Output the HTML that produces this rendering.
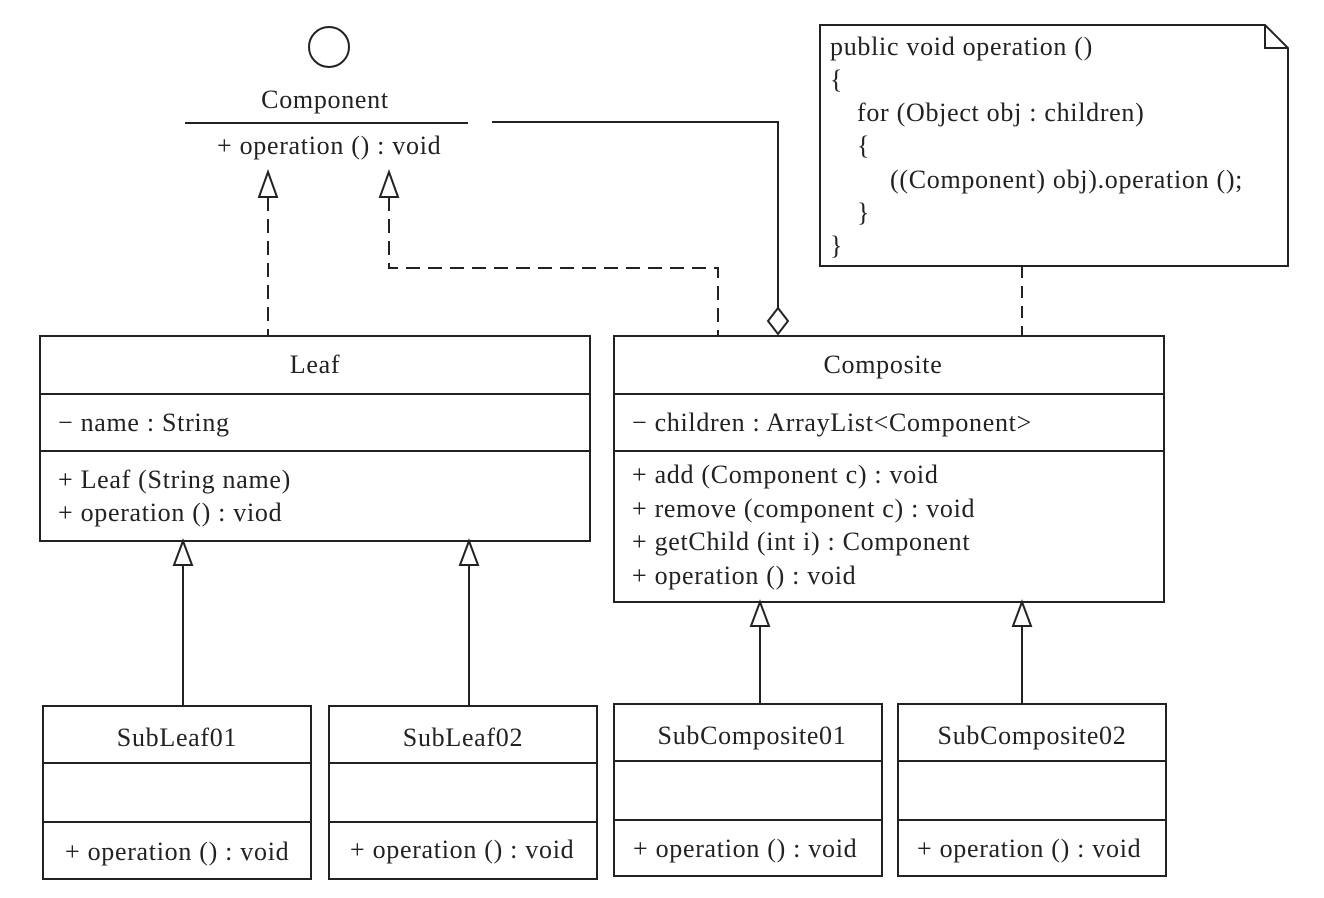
<!DOCTYPE html>
<html><head><meta charset="utf-8"><style>
html,body{margin:0;padding:0;background:#fff;}
svg{display:block;}
text{font-family:"Liberation Serif",serif;font-size:26px;letter-spacing:0.7px;fill:#222;}
</style></head><body>
<svg width="1324" height="898" viewBox="0 0 1324 898" xmlns="http://www.w3.org/2000/svg">
<g stroke="#222" stroke-width="2" fill="none">
<circle cx="329" cy="47" r="20"/>
<line x1="185" y1="123" x2="468" y2="123"/>
<polyline points="492,122 778,122 778,308"/>
<polygon points="778,308 788,321 778,334 768,321" fill="#fff"/>
<polygon points="820,25 1265,25 1288,48 1288,266 820,266" fill="#fff"/>
<polyline points="1265,25 1265,48 1288,48"/>
<line x1="1022" y1="266" x2="1022" y2="336" stroke-dasharray="12,8"/>
<line x1="268" y1="197" x2="268" y2="336" stroke-dasharray="14,8"/>
<polygon points="268,172 259,197 277,197" fill="#fff"/>
<polyline points="389,197 389,268 718,268 718,336" stroke-dasharray="14,8"/>
<polygon points="389,172 380,197 398,197" fill="#fff"/>
<rect x="40" y="336" width="550" height="205" fill="#fff"/>
<line x1="40" y1="394" x2="590" y2="394"/><line x1="40" y1="451" x2="590" y2="451"/>
<rect x="614" y="336" width="550" height="266" fill="#fff"/>
<line x1="614" y1="394" x2="1164" y2="394"/><line x1="614" y1="451" x2="1164" y2="451"/>
<line x1="183" y1="565" x2="183" y2="706"/><polygon points="183,541 174,565 192,565" fill="#fff"/>
<line x1="469" y1="565" x2="469" y2="706"/><polygon points="469,541 460,565 478,565" fill="#fff"/>
<line x1="760" y1="626" x2="760" y2="704"/><polygon points="760,602 751,626 769,626" fill="#fff"/>
<line x1="1022" y1="626" x2="1022" y2="704"/><polygon points="1022,602 1013,626 1031,626" fill="#fff"/>
<rect x="43" y="706" width="268" height="173"/><line x1="43" y1="763" x2="311" y2="763"/><line x1="43" y1="822" x2="311" y2="822"/>
<rect x="329" y="706" width="268" height="173"/><line x1="329" y1="763" x2="597" y2="763"/><line x1="329" y1="822" x2="597" y2="822"/>
<rect x="614" y="704" width="268" height="172"/><line x1="614" y1="761" x2="882" y2="761"/><line x1="614" y1="820" x2="882" y2="820"/>
<rect x="898" y="704" width="268" height="172"/><line x1="898" y1="761" x2="1166" y2="761"/><line x1="898" y1="820" x2="1166" y2="820"/>
</g>
<text x="325" y="108" text-anchor="middle">Component</text>
<text x="217" y="154">+ operation () : void</text>
<text x="830" y="55">public void operation ()</text>
<text x="830" y="88">{</text>
<text x="857" y="121">for (Object obj : children)</text>
<text x="857" y="154">{</text>
<text x="890" y="188">((Component) obj).operation ();</text>
<text x="857" y="221">}</text>
<text x="830" y="254">}</text>
<text x="315" y="373" text-anchor="middle">Leaf</text>
<text x="58" y="431">− name : String</text>
<text x="58" y="488">+ Leaf (String name)</text>
<text x="58" y="521">+ operation () : viod</text>
<text x="883" y="373" text-anchor="middle">Composite</text>
<text x="632" y="431">− children : ArrayList&lt;Component&gt;</text>
<text x="632" y="483">+ add (Component c) : void</text>
<text x="632" y="517">+ remove (component c) : void</text>
<text x="632" y="550">+ getChild (int i) : Component</text>
<text x="632" y="584">+ operation () : void</text>
<text x="177" y="746" text-anchor="middle">SubLeaf01</text>
<text x="65" y="860">+ operation () : void</text>
<text x="463" y="746" text-anchor="middle">SubLeaf02</text>
<text x="350" y="858">+ operation () : void</text>
<text x="752" y="744" text-anchor="middle">SubComposite01</text>
<text x="633" y="857">+ operation () : void</text>
<text x="1032" y="744" text-anchor="middle">SubComposite02</text>
<text x="917" y="857">+ operation () : void</text>
</svg>
</body></html>
